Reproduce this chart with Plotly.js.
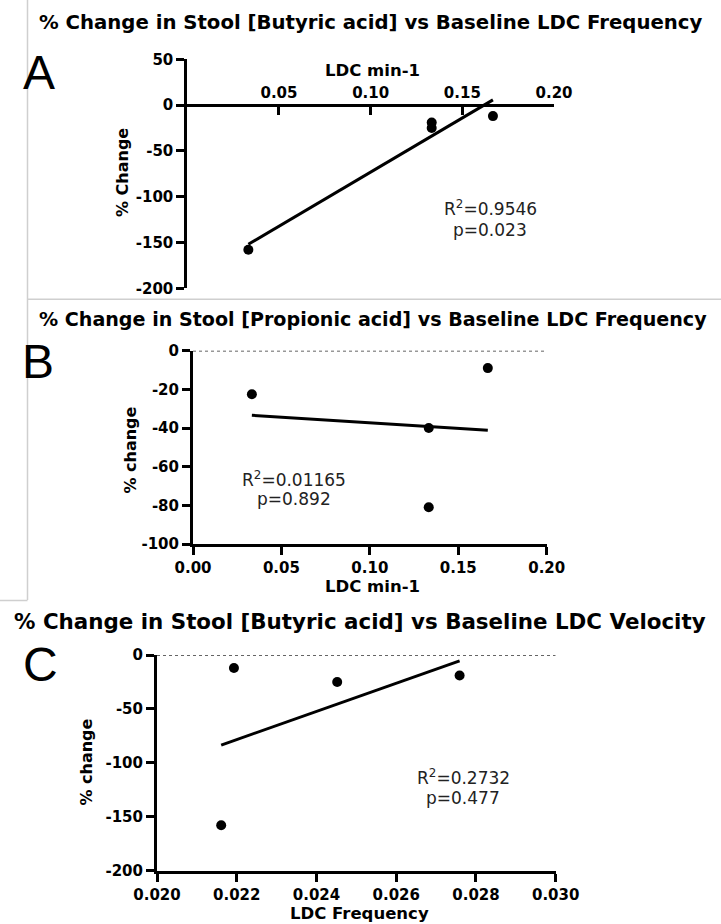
<!DOCTYPE html>
<html><head><meta charset="utf-8">
<script src="https://cdn.plot.ly/plotly-3.0.1.min.js"></script>
<style>html,body{margin:0;padding:0;background:#fff}</style>
</head><body><div id="chart" style="width:721px;height:924px"></div>
<script>
// ---------- Panel A: Butyric acid vs LDC frequency ----------
const ldcMinA = [0.0333, 0.1333, 0.1333, 0.1667];
const butyricChangeA = [-158, -19, -25, -12];
const fitXA = [0.0333, 0.1667];
const fitYA = [-152, 5.7];
const xTicksA = [0.05, 0.10, 0.15, 0.20];
const xTickTextA = ['0.05', '0.10', '0.15', '0.20'];
const yTicksA = [50, 0, -50, -100, -150, -200];
const yTickTextA = ['50', '0', '-50', '-100', '-150', '-200'];
const xRangeA = [0, 0.20];
const yRangeA = [-200, 50];
const statsA = ['R<sup>2</sup>=0.9546', 'p=0.023'];

// ---------- Panel B: Propionic acid vs LDC frequency ----------
const ldcMinB = [0.0333, 0.1333, 0.1333, 0.1667];
const propionicChangeB = [-22.5, -40, -81, -9];
const fitXB = [0.0333, 0.1667];
const fitYB = [-33.4, -41.1];
const xTicksB = [0, 0.05, 0.10, 0.15, 0.20];
const xTickTextB = ['0.00', '0.05', '0.10', '0.15', '0.20'];
const yTicksB = [0, -20, -40, -60, -80, -100];
const yTickTextB = ['0', '-20', '-40', '-60', '-80', '-100'];
const xRangeB = [0, 0.20];
const yRangeB = [-100, 0];
const statsB = ['R<sup>2</sup>=0.01165', 'p=0.892'];

// ---------- Panel C: Butyric acid vs LDC velocity ----------
const ldcFreqC = [0.02161, 0.02193, 0.02452, 0.02759];
const butyricChangeC = [-158, -12, -25, -19];
const fitXC = [0.02161, 0.02759];
const fitYC = [-83.6, -5.4];
const xTicksC = [0.020, 0.022, 0.024, 0.026, 0.028, 0.030];
const xTickTextC = ['0.020', '0.022', '0.024', '0.026', '0.028', '0.030'];
const yTicksC = [0, -50, -100, -150, -200];
const yTickTextC = ['0', '-50', '-100', '-150', '-200'];
const xRangeC = [0.020, 0.030];
const yRangeC = [-200, 0];
const statsC = ['R<sup>2</sup>=0.2732', 'p=0.477'];

const titles = [
  '% Change in Stool [Butyric acid] vs Baseline LDC Frequency',
  '% Change in Stool [Propionic acid] vs Baseline LDC Frequency',
  '% Change in Stool [Butyric acid] vs Baseline LDC Velocity'
];

// ---------- layout helpers ----------
const W = 721, H = 924;
const fx = p => p / W;
const fy = p => 1 - p / H;
const BOLD = {family: 'DejaVu Sans, Arial, sans-serif', weight: 'bold', color: '#000'};
const REG = {family: 'DejaVu Sans, Arial, sans-serif', color: '#222'};

function pts(x, y, xa, ya) {
  return {x, y, xaxis: xa, yaxis: ya, type: 'scatter', mode: 'markers', cliponaxis: false,
          marker: {color: '#000', size: 10}, hoverinfo: 'skip'};
}
function fit(x, y, xa, ya) {
  return {x, y, xaxis: xa, yaxis: ya, type: 'scatter', mode: 'lines', cliponaxis: false,
          line: {color: '#000', width: 3}, hoverinfo: 'skip'};
}

const data = [
  fit(fitXA, fitYA, 'x', 'y'), pts(ldcMinA, butyricChangeA, 'x', 'y'),
  fit(fitXB, fitYB, 'x2', 'y2'), pts(ldcMinB, propionicChangeB, 'x2', 'y2'),
  fit(fitXC, fitYC, 'x3', 'y3'), pts(ldcFreqC, butyricChangeC, 'x3', 'y3')
];

const axBase = {showline: true, linecolor: '#000', linewidth: 3, ticks: 'outside', ticklen: 8,
                tickwidth: 3, tickcolor: '#000', showgrid: false, zeroline: false, fixedrange: true,
                tickmode: 'array', tickfont: Object.assign({size: 15}, BOLD)};

// panel A geometry: x axis crosses at y = 0
const yDomA = [fy(288.3), fy(59.3)];
const zeroPosA = yDomA[0] + (0 - yRangeA[0]) / (yRangeA[1] - yRangeA[0]) * (yDomA[1] - yDomA[0]);

function ann(text, px, py, font, extra) {
  return Object.assign({text, x: fx(px), y: fy(py), xref: 'paper', yref: 'paper', showarrow: false,
                        xanchor: 'center', yanchor: 'middle', font}, extra || {});
}

const annotations = [
  ann(titles[0], 36.7, 22, Object.assign({size: 19.7}, BOLD), {xanchor: 'left'}),
  ann(titles[1], 36.7, 319, Object.assign({size: 19.1}, BOLD), {xanchor: 'left'}),
  ann(titles[2], 11.5, 621, Object.assign({size: 21.4}, BOLD), {xanchor: 'left'}),
  ann('A', 39, 72, {family: 'Liberation Sans, Arial, sans-serif', size: 48, color: '#000'}),
  ann('B', 38, 361, {family: 'Liberation Sans, Arial, sans-serif', size: 48, color: '#000'}),
  ann('C', 40, 664, {family: 'Liberation Sans, Arial, sans-serif', size: 48, color: '#000'}),
  // axis titles
  ann('LDC min-1', 372.7, 71, Object.assign({size: 16.5}, BOLD)),
  ann('% Change', 123, 173, Object.assign({size: 16}, BOLD), {textangle: -90}),
  ann('% change', 129.6, 450, Object.assign({size: 16}, BOLD), {textangle: -90}),
  ann('LDC min-1', 372.7, 586, Object.assign({size: 16.5}, BOLD)),
  ann('% change', 85.6, 762, Object.assign({size: 16}, BOLD), {textangle: -90}),
  ann('LDC Frequency', 359, 913, Object.assign({size: 16.5}, BOLD)),
  // statistics
  ann(statsA[0], 490, 208, Object.assign({size: 17}, REG)),
  ann(statsA[1], 490, 230, Object.assign({size: 17}, REG)),
  ann(statsB[0], 294, 479, Object.assign({size: 17}, REG)),
  ann(statsB[1], 294, 499, Object.assign({size: 17}, REG)),
  ann(statsC[0], 463, 777, Object.assign({size: 17}, REG)),
  ann(statsC[1], 463, 798, Object.assign({size: 17}, REG))
];

const shapes = [
  // image panel borders
  {type: 'line', xref: 'paper', yref: 'paper', x0: fx(27.5), x1: fx(27.5), y0: 1, y1: fy(600), line: {color: '#cfcfcf', width: 1.5}},
  {type: 'line', xref: 'paper', yref: 'paper', x0: fx(27.5), x1: 1, y0: fy(299.3), y1: fy(299.3), line: {color: '#cfcfcf', width: 1.5}},
  {type: 'line', xref: 'paper', yref: 'paper', x0: 0, x1: fx(27.5), y0: fy(600.5), y1: fy(600.5), line: {color: '#cfcfcf', width: 1.5}},
  // dotted zero lines
  {type: 'line', xref: 'x2', yref: 'y2', x0: xRangeB[0], x1: xRangeB[1], y0: 0, y1: 0, layer: 'below', line: {color: '#333', width: 1.5, dash: 'dot'}},
  {type: 'line', xref: 'x3', yref: 'y3', x0: xRangeC[0], x1: xRangeC[1], y0: 0, y1: 0, layer: 'below', line: {color: '#333', width: 1.5, dash: 'dot'}}
];

const layout = {
  width: W, height: H, margin: {l: 0, r: 0, t: 0, b: 0},
  paper_bgcolor: '#fff', plot_bgcolor: 'rgba(0,0,0,0)', showlegend: false,
  xaxis: Object.assign({}, axBase, {domain: [fx(187.3), fx(554)], range: xRangeA, anchor: 'free',
          position: zeroPosA, side: 'top', ticks: 'inside', tickvals: xTicksA, ticktext: xTickTextA}),
  yaxis: Object.assign({}, axBase, {domain: yDomA, range: yRangeA, anchor: 'x', tickvals: yTicksA, ticktext: yTickTextA}),
  xaxis2: Object.assign({}, axBase, {domain: [fx(193), fx(546.7)], range: xRangeB, anchor: 'y2',
          tickvals: xTicksB, ticktext: xTickTextB}),
  yaxis2: Object.assign({}, axBase, {domain: [fy(544), fy(350.7)], range: yRangeB, anchor: 'x2',
          tickvals: yTicksB, ticktext: yTickTextB}),
  xaxis3: Object.assign({}, axBase, {domain: [fx(157), fx(555.7)], range: xRangeC, anchor: 'y3',
          tickvals: xTicksC, ticktext: xTickTextC}),
  yaxis3: Object.assign({}, axBase, {domain: [fy(870.5), fy(655)], range: yRangeC, anchor: 'x3',
          tickvals: yTicksC, ticktext: yTickTextC}),
  annotations, shapes
};

Plotly.newPlot('chart', data, layout, {staticPlot: true, displayModeBar: false});
</script></body></html>
